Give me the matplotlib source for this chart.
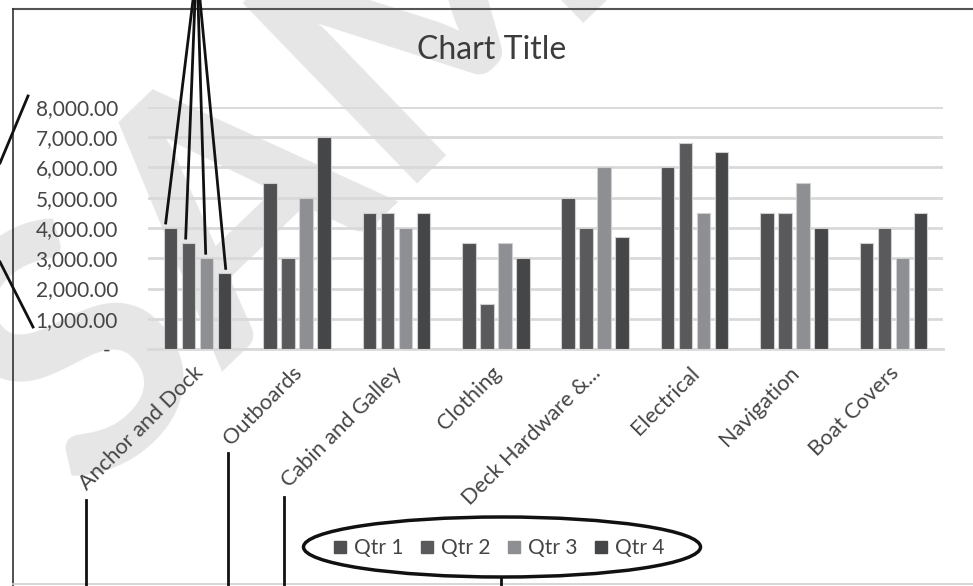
import matplotlib
matplotlib.use('Agg')
import matplotlib.pyplot as plt
from matplotlib.patches import Ellipse
from matplotlib.lines import Line2D
from matplotlib.transforms import ScaledTranslation
import numpy as np

categories = ["Anchor and Dock", "Outboards", "Cabin and Galley", "Clothing",
              "Deck Hardware &...", "Electrical", "Navigation", "Boat Covers"]
series_names = ["Qtr 1", "Qtr 2", "Qtr 3", "Qtr 4"]
qtr1 = [4000, 5500, 4500, 3500, 5000, 6000, 4500, 3500]
qtr2 = [3500, 3000, 4500, 1500, 4000, 6800, 4500, 4000]
qtr3 = [3000, 5000, 4000, 3500, 6000, 4500, 5500, 3000]
qtr4 = [2500, 7000, 4500, 3000, 3700, 6500, 4000, 4500]
y_ticks = [0, 1000, 2000, 3000, 4000, 5000, 6000, 7000, 8000]
title = "Chart Title"

series = [qtr1, qtr2, qtr3, qtr4]
colors = ['#505053', '#5a5a5d', '#8e8f92', '#454648']
TXT = '#454545'
FONT = 'Lato'

W, H = 973, 586
fig = plt.figure(figsize=(W / 100, H / 100), dpi=100)
fig.patch.set_facecolor('white')

# background layer (watermark)
bg = fig.add_axes([0, 0, 1, 1], zorder=0)
bg.set_xlim(0, W); bg.set_ylim(H, 0); bg.axis('off')
bg.text(15, 425, "SAMPLE", rotation=44, fontsize=250, fontweight='bold',
        color='#e6e6e6', family=FONT, ha='left', va='center',
        rotation_mode='anchor', clip_on=True)

# main chart
ax = fig.add_axes([148 / W, 1 - 349 / H, 795 / W, 242 / H], zorder=1)
ax.patch.set_alpha(0)
x = np.arange(len(categories))
pitch, bw = 0.181, 0.136
bar_containers = []
for i, (vals, c, name) in enumerate(zip(series, colors, series_names)):
    bc = ax.bar(x + (i - 1.5) * pitch, vals, width=bw, color=c,
                edgecolor='#cfcfcf', linewidth=0.8, label=name, zorder=3)
    bar_containers.append(bc)

ax.set_xlim(-0.5, len(categories) - 0.5)
ax.set_ylim(0, 8000)
ax.set_yticks(y_ticks)
ax.set_yticklabels(['-' if v == 0 else f"{v:,.2f}" for v in y_ticks],
                   family=FONT, fontsize=15, color=TXT)
ax.yaxis.grid(True, color='#d9d9d9', linewidth=2)
ax.set_axisbelow(True)
for s in ['top', 'right', 'left']:
    ax.spines[s].set_visible(False)
ax.spines['bottom'].set_color('#d9d9d9')
ax.spines['bottom'].set_linewidth(2)
ax.tick_params(axis='both', length=0)
ax.tick_params(axis='y', pad=21.6)
ax.set_xticks(x)
ax.set_xticklabels(categories, rotation=45, ha='right', va='top',
                   rotation_mode='anchor', family=FONT, fontsize=15.7, color=TXT)
ax.tick_params(axis='x', pad=10)
for lab in ax.get_xticklabels():
    lab.set_transform(lab.get_transform() + ScaledTranslation(-5 / 100, 0, fig.dpi_scale_trans))
zl = ax.get_yticklabels()[0]
zl.set_transform(zl.get_transform() + ScaledTranslation(-8 / 100, 0, fig.dpi_scale_trans))

fig.text(492 / W, 1 - 50 / H, title, family=FONT, fontsize=23, color='#3c3c3c',
         ha='center', va='center')

handles = [Line2D([], [], marker='s', linestyle='none', markersize=8, color=c)
           for c in colors]
fig.legend(handles, series_names, loc='center', bbox_to_anchor=(499 / W, 1 - 548 / H),
           ncol=4, frameon=False, prop={'family': FONT, 'size': 15},
           labelcolor=TXT, handlelength=0.6, handletextpad=0.35, columnspacing=0.85)

# overlay layer (callouts and frame)
ov = fig.add_axes([0, 0, 1, 1], zorder=5)
ov.set_xlim(0, W); ov.set_ylim(H, 0); ov.axis('off')
ov.patch.set_alpha(0)
ov.plot([12.5, W], [9, 9], color='#555555', lw=1.5)
ov.plot([12.5, 12.5], [9, H], color='#333333', lw=1.2)
ov.plot([12.5, W], [583.5, 583.5], color='#d0d0d0', lw=1.2)

fig.canvas.draw()
to_px = ax.transData
inv = ov.transData.inverted()
tops_x = [193, 195, 198, 200]
for i, bc in enumerate(bar_containers):
    rect = bc[0]
    cx = rect.get_x() + rect.get_width() / 2
    disp = to_px.transform((cx, rect.get_height()))
    px, py = inv.transform(disp)
    ov.plot([tops_x[i], px + (-5 + i * 2)], [0, py - 5], color='#111111', lw=2)

ov.plot([0, 28], [163, 96], color='#111111', lw=2)
ov.plot([0, 33], [262, 327], color='#111111', lw=2)
for xx, y0 in [(86, 500), (228, 453), (284, 497), (501, 578)]:
    ov.plot([xx, xx], [y0, H], color='#111111', lw=2)
ov.add_patch(Ellipse((502, 547), 397, 60, fill=False, edgecolor='#111111', lw=2.5))

fig.savefig('out.png', dpi=100, facecolor='white')
